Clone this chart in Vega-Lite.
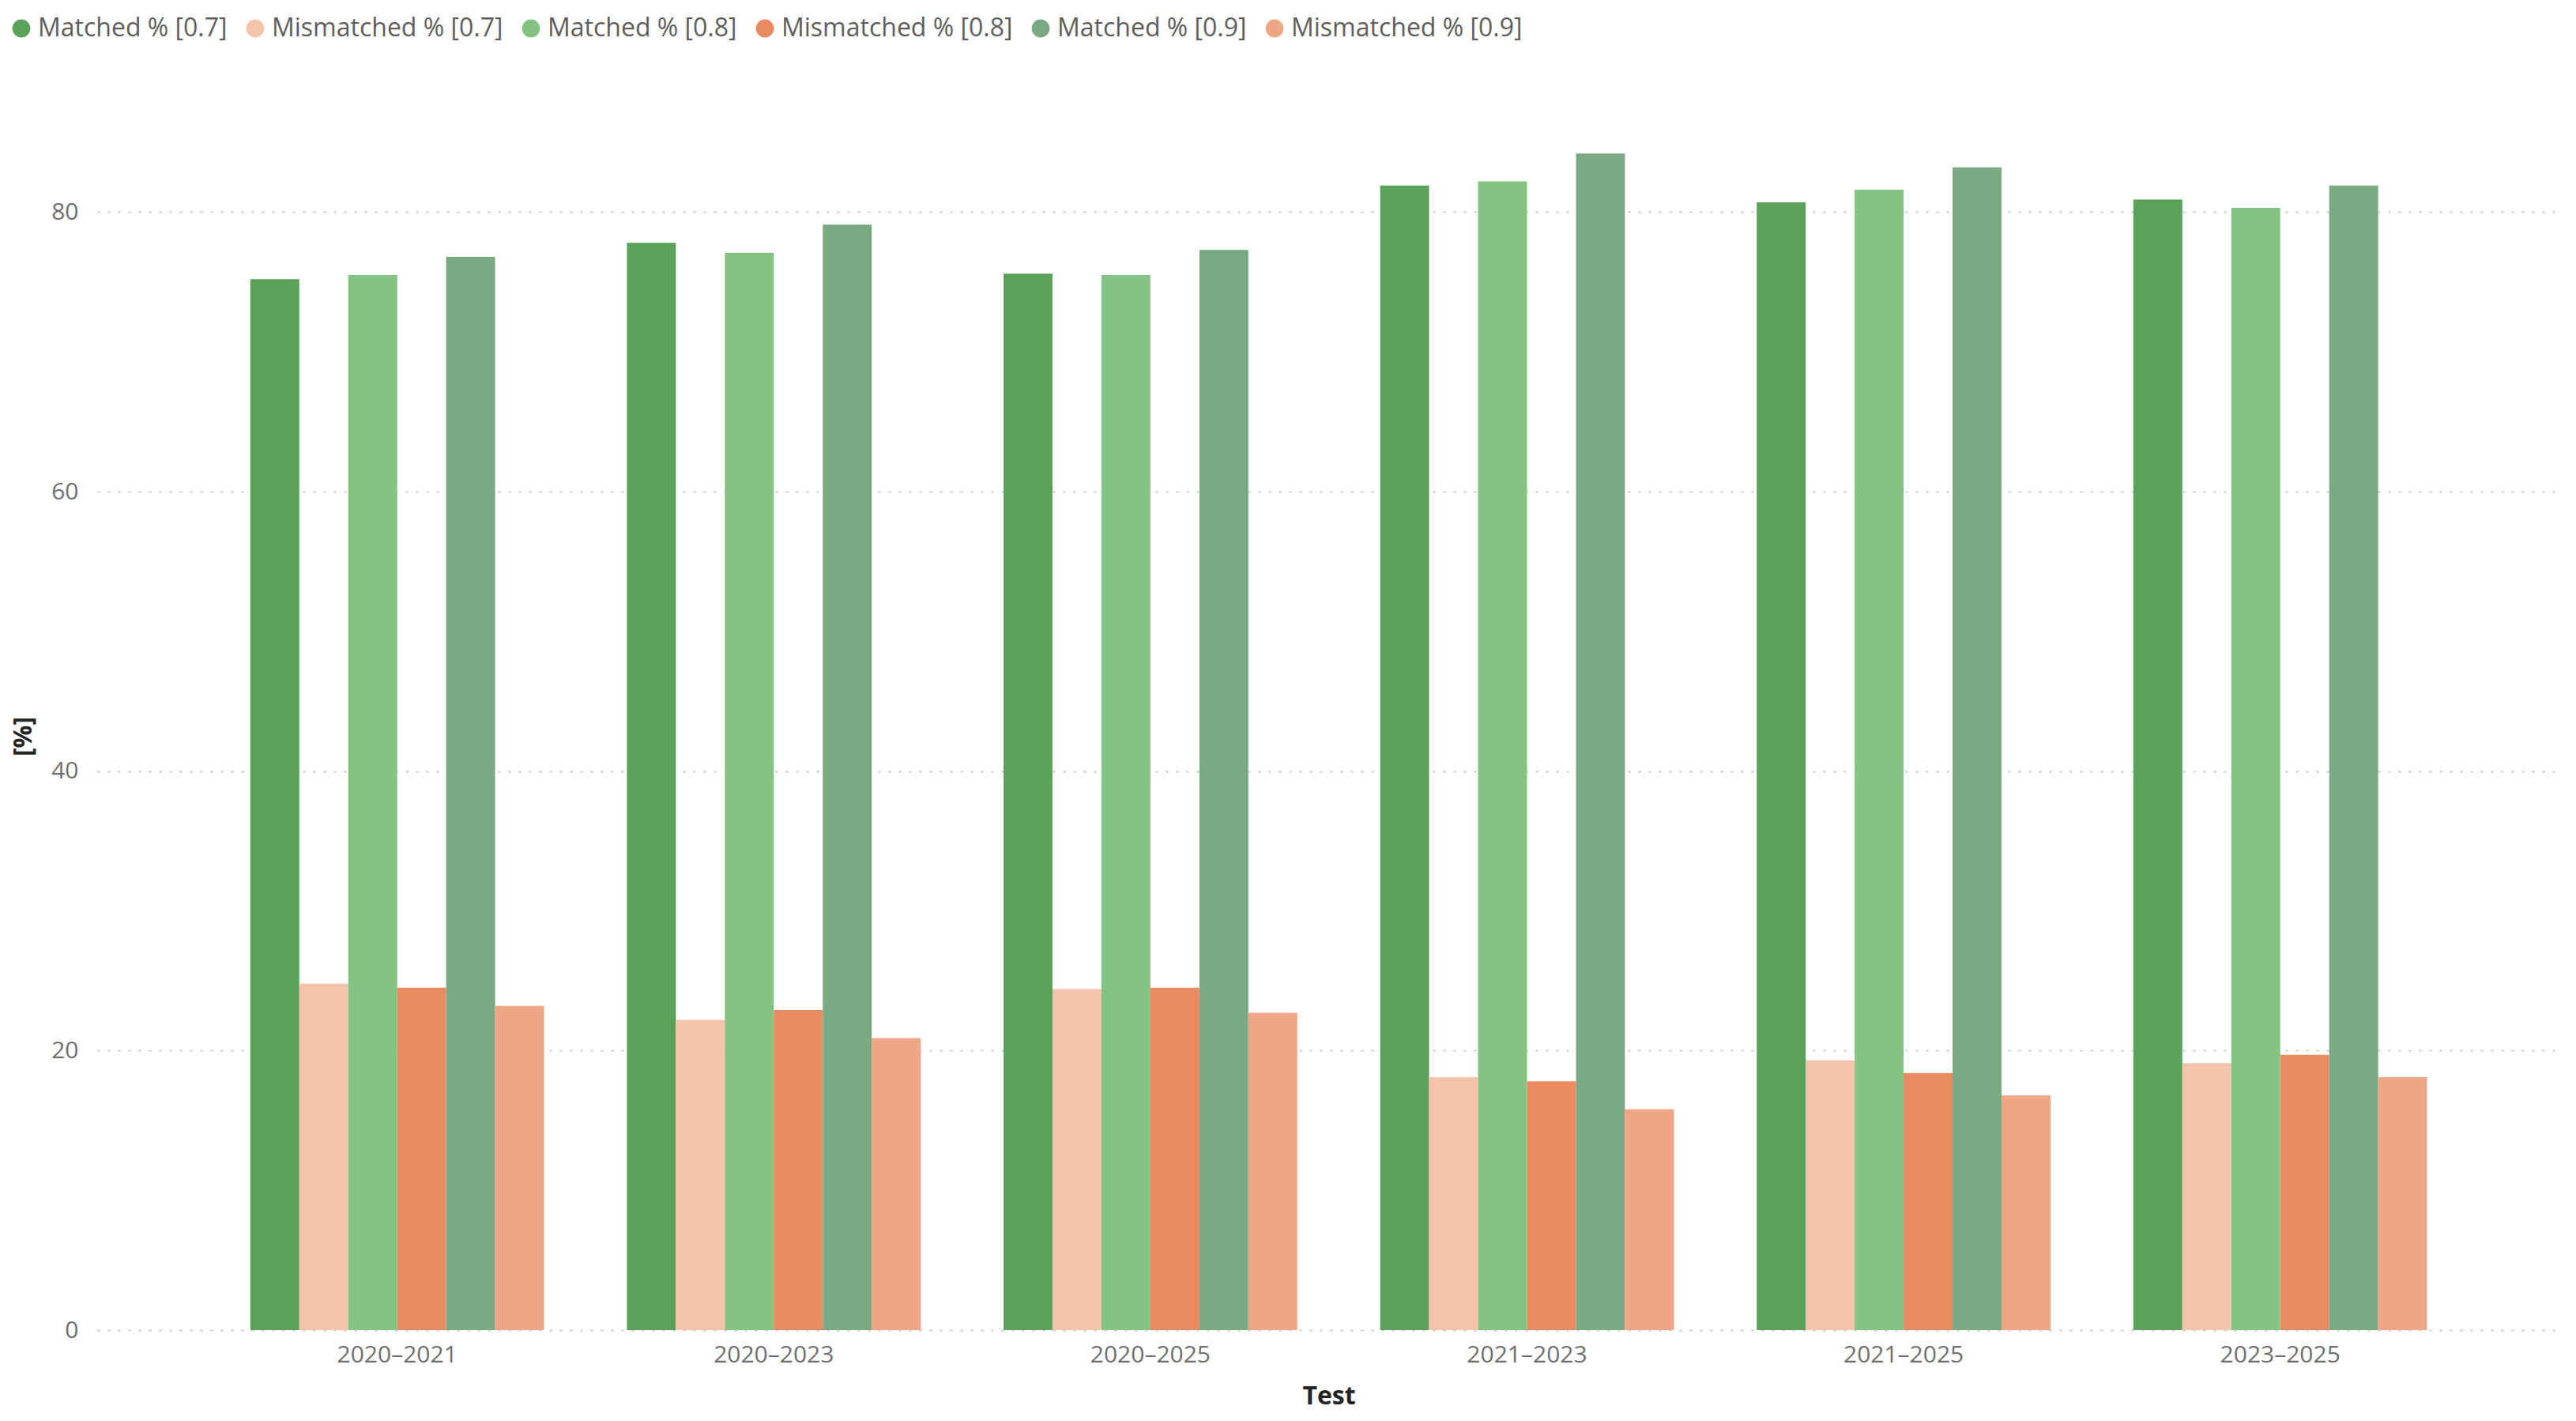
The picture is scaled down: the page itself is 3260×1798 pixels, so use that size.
{
  "$schema": "https://vega.github.io/schema/vega-lite/v6.json",
  "width": 3117,
  "height": 1503,
  "autosize": {"type": "none"},
  "padding": {"left": 123, "top": 180, "right": 20, "bottom": 115},
  "background": "white",
  "data": {
    "values": [
      {"Test": "2020–2021", "Series": "Matched % [0.7]", "Value": 75.2},
      {"Test": "2020–2021", "Series": "Mismatched % [0.7]", "Value": 24.8},
      {"Test": "2020–2021", "Series": "Matched % [0.8]", "Value": 75.5},
      {"Test": "2020–2021", "Series": "Mismatched % [0.8]", "Value": 24.5},
      {"Test": "2020–2021", "Series": "Matched % [0.9]", "Value": 76.8},
      {"Test": "2020–2021", "Series": "Mismatched % [0.9]", "Value": 23.2},
      {"Test": "2020–2023", "Series": "Matched % [0.7]", "Value": 77.8},
      {"Test": "2020–2023", "Series": "Mismatched % [0.7]", "Value": 22.2},
      {"Test": "2020–2023", "Series": "Matched % [0.8]", "Value": 77.1},
      {"Test": "2020–2023", "Series": "Mismatched % [0.8]", "Value": 22.9},
      {"Test": "2020–2023", "Series": "Matched % [0.9]", "Value": 79.1},
      {"Test": "2020–2023", "Series": "Mismatched % [0.9]", "Value": 20.9},
      {"Test": "2020–2025", "Series": "Matched % [0.7]", "Value": 75.6},
      {"Test": "2020–2025", "Series": "Mismatched % [0.7]", "Value": 24.4},
      {"Test": "2020–2025", "Series": "Matched % [0.8]", "Value": 75.5},
      {"Test": "2020–2025", "Series": "Mismatched % [0.8]", "Value": 24.5},
      {"Test": "2020–2025", "Series": "Matched % [0.9]", "Value": 77.3},
      {"Test": "2020–2025", "Series": "Mismatched % [0.9]", "Value": 22.7},
      {"Test": "2021–2023", "Series": "Matched % [0.7]", "Value": 81.9},
      {"Test": "2021–2023", "Series": "Mismatched % [0.7]", "Value": 18.1},
      {"Test": "2021–2023", "Series": "Matched % [0.8]", "Value": 82.2},
      {"Test": "2021–2023", "Series": "Mismatched % [0.8]", "Value": 17.8},
      {"Test": "2021–2023", "Series": "Matched % [0.9]", "Value": 84.2},
      {"Test": "2021–2023", "Series": "Mismatched % [0.9]", "Value": 15.8},
      {"Test": "2021–2025", "Series": "Matched % [0.7]", "Value": 80.7},
      {"Test": "2021–2025", "Series": "Mismatched % [0.7]", "Value": 19.3},
      {"Test": "2021–2025", "Series": "Matched % [0.8]", "Value": 81.6},
      {"Test": "2021–2025", "Series": "Mismatched % [0.8]", "Value": 18.4},
      {"Test": "2021–2025", "Series": "Matched % [0.9]", "Value": 83.2},
      {"Test": "2021–2025", "Series": "Mismatched % [0.9]", "Value": 16.8},
      {"Test": "2023–2025", "Series": "Matched % [0.7]", "Value": 80.9},
      {"Test": "2023–2025", "Series": "Mismatched % [0.7]", "Value": 19.1},
      {"Test": "2023–2025", "Series": "Matched % [0.8]", "Value": 80.3},
      {"Test": "2023–2025", "Series": "Mismatched % [0.8]", "Value": 19.7},
      {"Test": "2023–2025", "Series": "Matched % [0.9]", "Value": 81.9},
      {"Test": "2023–2025", "Series": "Mismatched % [0.9]", "Value": 18.1}
    ]
  },
  "mark": {"type": "bar"},
  "encoding": {
    "x": {
      "field": "Test",
      "type": "nominal",
      "title": "Test",
      "sort": null,
      "scale": {"paddingInner": 0.22, "paddingOuter": 0.38, "align": 0.535},
      "axis": {
        "labelAngle": 0,
        "ticks": false,
        "domain": false,
        "labelPadding": 16,
        "labelFontSize": 30,
        "labelColor": "#6f6f6f",
        "titleFontSize": 32,
        "titleFontWeight": "bold",
        "titleColor": "#252423",
        "titlePadding": 22
      }
    },
    "xOffset": {
      "field": "Series",
      "type": "nominal",
      "sort": ["Matched % [0.7]", "Mismatched % [0.7]", "Matched % [0.8]", "Mismatched % [0.8]", "Matched % [0.9]", "Mismatched % [0.9]"],
      "scale": {"paddingInner": 0, "paddingOuter": 0}
    },
    "y": {
      "field": "Value",
      "type": "quantitative",
      "title": "[%]",
      "scale": {"domain": [0, 85], "nice": false},
      "axis": {
        "values": [0, 20, 40, 60, 80],
        "ticks": false,
        "domain": false,
        "labelPadding": 24,
        "labelFontSize": 30,
        "labelColor": "#6f6f6f",
        "titleFontSize": 32,
        "titleFontWeight": "bold",
        "titleColor": "#252423",
        "titlePadding": 18,
        "grid": true,
        "gridColor": "#c8c8c8",
        "gridDash": [3, 10],
        "gridWidth": 2
      }
    },
    "color": {
      "field": "Series",
      "type": "nominal",
      "title": null,
      "sort": ["Matched % [0.7]", "Mismatched % [0.7]", "Matched % [0.8]", "Mismatched % [0.8]", "Matched % [0.9]", "Mismatched % [0.9]"],
      "scale": {
        "domain": ["Matched % [0.7]", "Mismatched % [0.7]", "Matched % [0.8]", "Mismatched % [0.8]", "Matched % [0.9]", "Mismatched % [0.9]"],
        "range": ["#5aa25a", "#f3c3ab", "#83c482", "#ea8a61", "#7ba983", "#efa687"]
      },
      "legend": {
        "orient": "none",
        "legendX": -112,
        "legendY": -160,
        "direction": "horizontal",
        "symbolType": "circle",
        "symbolSize": 520,
        "symbolStrokeWidth": 0,
        "labelFontSize": 32,
        "labelColor": "#605e5c",
        "labelOffset": 5,
        "columnPadding": 19,
        "labelLimit": 500
      }
    }
  },
  "config": {
    "view": {"stroke": null},
    "font": "Open Sans"
  }
}
